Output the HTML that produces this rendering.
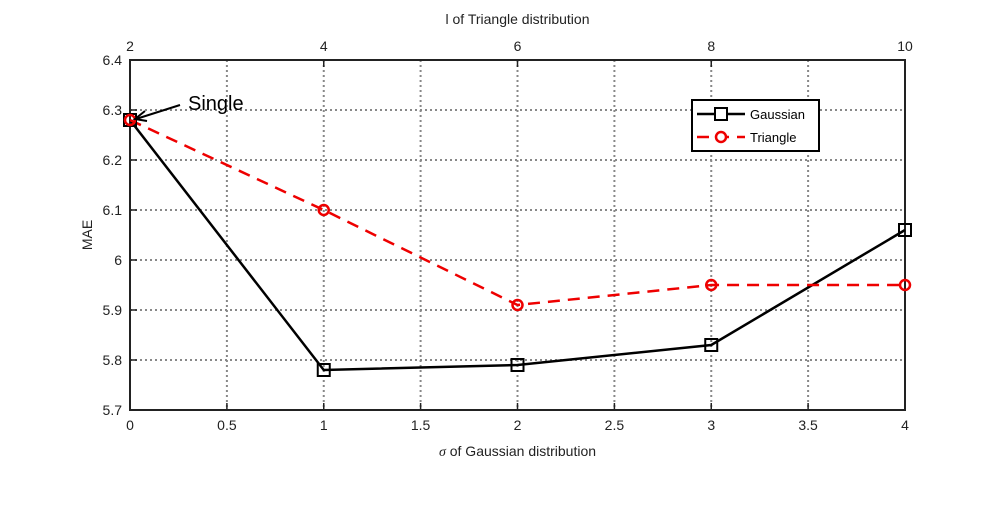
<!DOCTYPE html>
<html><head><style>body{margin:0;background:#fff}</style></head><body>
<svg width="1000" height="500" xmlns="http://www.w3.org/2000/svg" font-family="Liberation Sans, sans-serif">
<rect width="1000" height="500" fill="#fff"/>
<g stroke="#888" stroke-width="2" stroke-dasharray="2,3">
<line x1="226.9" y1="60" x2="226.9" y2="410"/><line x1="323.75" y1="60" x2="323.75" y2="410"/>
<line x1="420.6" y1="60" x2="420.6" y2="410"/><line x1="517.5" y1="60" x2="517.5" y2="410"/>
<line x1="614.4" y1="60" x2="614.4" y2="410"/><line x1="711.25" y1="60" x2="711.25" y2="410"/>
<line x1="808.1" y1="60" x2="808.1" y2="410"/>
<line x1="130" y1="110" x2="905" y2="110"/><line x1="130" y1="160" x2="905" y2="160"/>
<line x1="130" y1="210" x2="905" y2="210"/><line x1="130" y1="260" x2="905" y2="260"/>
<line x1="130" y1="310" x2="905" y2="310"/><line x1="130" y1="360" x2="905" y2="360"/>
</g>
<rect x="130" y="60" width="775" height="350" fill="none" stroke="#222" stroke-width="2"/>
<g stroke="#222" stroke-width="1.5">
<line x1="226.9" y1="410" x2="226.9" y2="403"/><line x1="323.75" y1="410" x2="323.75" y2="403"/><line x1="420.6" y1="410" x2="420.6" y2="403"/><line x1="517.5" y1="410" x2="517.5" y2="403"/><line x1="614.4" y1="410" x2="614.4" y2="403"/><line x1="711.25" y1="410" x2="711.25" y2="403"/><line x1="808.1" y1="410" x2="808.1" y2="403"/>
<line x1="323.75" y1="60" x2="323.75" y2="67"/><line x1="517.5" y1="60" x2="517.5" y2="67"/><line x1="711.25" y1="60" x2="711.25" y2="67"/>
<line x1="130" y1="110" x2="137" y2="110"/><line x1="130" y1="160" x2="137" y2="160"/><line x1="130" y1="210" x2="137" y2="210"/><line x1="130" y1="260" x2="137" y2="260"/><line x1="130" y1="310" x2="137" y2="310"/><line x1="130" y1="360" x2="137" y2="360"/>
</g>
<g font-size="14" fill="#222" text-anchor="middle">
<text x="130" y="430">0</text><text x="226.9" y="430">0.5</text><text x="323.75" y="430">1</text><text x="420.6" y="430">1.5</text><text x="517.5" y="430">2</text><text x="614.4" y="430">2.5</text><text x="711.25" y="430">3</text><text x="808.1" y="430">3.5</text><text x="905" y="430">4</text>
<text x="130" y="51">2</text><text x="323.75" y="51">4</text><text x="517.5" y="51">6</text><text x="711.25" y="51">8</text><text x="905" y="51">10</text>
<text x="517.5" y="24">l of Triangle distribution</text>
<text x="517.5" y="456"><tspan font-family="Liberation Serif, serif" font-style="italic">σ</tspan> of Gaussian distribution</text>
</g>
<g font-size="14" fill="#222" text-anchor="end">
<text x="122" y="65">6.4</text><text x="122" y="115">6.3</text><text x="122" y="165">6.2</text><text x="122" y="215">6.1</text><text x="122" y="265">6</text><text x="122" y="315">5.9</text><text x="122" y="365">5.8</text><text x="122" y="415">5.7</text>
</g>
<text transform="translate(92,235) rotate(-90)" font-size="14" fill="#222" text-anchor="middle">MAE</text>
<polyline points="130,120 323.75,370 517.5,365 711.25,345 905,230" fill="none" stroke="#000" stroke-width="2.5"/>
<polyline points="130,120 323.75,210 517.5,305 711.25,285 905,285" fill="none" stroke="#e00" stroke-width="2.5" stroke-dasharray="12,8"/>
<g fill="none" stroke="#000" stroke-width="2">
<rect x="124" y="114" width="12" height="12"/><rect x="317.75" y="364" width="12" height="12"/><rect x="511.5" y="359" width="12" height="12"/><rect x="705.25" y="339" width="12" height="12"/><rect x="899" y="224" width="12" height="12"/>
</g>
<g fill="none" stroke="#e00" stroke-width="2.5">
<circle cx="130" cy="120" r="5"/><circle cx="323.75" cy="210" r="5"/><circle cx="517.5" cy="305" r="5"/><circle cx="711.25" cy="285" r="5"/><circle cx="905" cy="285" r="5"/>
</g>
<line x1="180" y1="105" x2="136" y2="119" stroke="#000" stroke-width="2"/>
<polyline points="145,111 135,119 147,121" fill="none" stroke="#000" stroke-width="2"/>
<text x="188" y="110" font-size="20" fill="#000">Single</text>
<rect x="692" y="100" width="127" height="51" fill="#fff" stroke="#000" stroke-width="2"/>
<line x1="697" y1="114" x2="745" y2="114" stroke="#000" stroke-width="2.5"/>
<rect x="715" y="108" width="12" height="12" fill="#fff" stroke="#000" stroke-width="2"/>
<line x1="697" y1="137" x2="745" y2="137" stroke="#e00" stroke-width="2.5" stroke-dasharray="12,8"/>
<circle cx="721" cy="137" r="5" fill="#fff" stroke="#e00" stroke-width="2.5"/>
<text x="750" y="119" font-size="13" fill="#000">Gaussian</text>
<text x="750" y="142" font-size="13" fill="#000">Triangle</text>
</svg>
</body></html>
